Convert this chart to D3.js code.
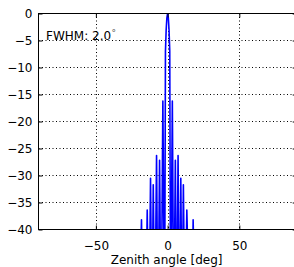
<!DOCTYPE html>
<html>
<head>
<meta charset="utf-8">
<script src="https://cdn.jsdelivr.net/npm/d3@7"></script>
<style>
  html, body { margin: 0; padding: 0; background: #fff; }
  svg { display: block; }
  text { font-family: "DejaVu Sans", sans-serif; }
</style>
</head>
<body>
<svg id="chart" width="294" height="267"></svg>
<script>
// Beam pattern (zenith angle in deg, gain in dB; -60 = deep null below the axis)
const angles = [-90, -20, -18.2, -17, -15.5, -14.2, -13, -11.9, -10.9, -10.0, -8.9, -7.7, -6.7, -5.6, -4.5, -3.3, -2.1, -1.5, -1, -0.5, 0, 0.5, 1, 1.5, 2.1, 3.3, 4.3, 5.4, 6.3, 7.3, 8.2, 9.2, 10.1, 11.0, 12.1, 13.4, 15.5, 16.8, 17.8, 19.5, 90];
const gainDb = [-60, -60, -38.2, -60, -60, -36.4, -60, -30.5, -60, -31.7, -60, -26.3, -60, -27.2, -60, -16.2, -60, -7, -3, -0.8, 0, -0.8, -3, -7, -60, -16.2, -60, -27.2, -60, -26.3, -60, -30.5, -60, -31.7, -60, -36.4, -60, -60, -38.2, -60, -60];
const xTicks = [-50, 0, 50];
const yTicks = [0, -5, -10, -15, -20, -25, -30, -35, -40];
const xLabel = "Zenith angle [deg]";
const annotation = "FWHM: 2.0";

const svg = d3.select("#chart");
const L = 38.5, R = 296.7, T = 13.5, B = 229.5;
const x = d3.scaleLinear().domain([-90, 90]).range([L, R]);
const y = d3.scaleLinear().domain([-40, 0]).range([B, T]);

svg.append("defs").append("clipPath").attr("id", "clip")
  .append("rect").attr("x", L).attr("y", T).attr("width", R - L).attr("height", B - T);

// grid
const grid = svg.append("g").attr("stroke", "#000").attr("stroke-width", 1)
  .attr("stroke-dasharray", "1,2.5").attr("fill", "none");
xTicks.forEach(t => grid.append("line")
  .attr("x1", Math.round(x(t)) + 0.5).attr("x2", Math.round(x(t)) + 0.5)
  .attr("y1", T).attr("y2", B));
yTicks.filter(t => t !== 0 && t !== -40).forEach(t => grid.append("line")
  .attr("x1", L).attr("x2", R)
  .attr("y1", y(t)).attr("y2", y(t)));

// data line
const line = d3.line().x((d, i) => x(angles[i])).y(d => y(d));
svg.append("path")
  .attr("clip-path", "url(#clip)")
  .attr("d", line(gainDb))
  .attr("fill", "none")
  .attr("stroke", "#0000ff")
  .attr("stroke-width", 1.6)
  .attr("stroke-linejoin", "round");

// axes (inward ticks, classic style)
const fmt = d => d3.format("")(d).replace("-", "\u2212");
const axB = svg.append("g").attr("transform", `translate(0,${B})`)
  .call(d3.axisBottom(x).tickValues(xTicks).tickSize(-4).tickPadding(12).tickFormat(fmt));
const axT = svg.append("g").attr("transform", `translate(0,${T})`)
  .call(d3.axisTop(x).tickValues(xTicks).tickSize(-4).tickFormat(""));
const axL = svg.append("g").attr("transform", `translate(${L},0)`)
  .call(d3.axisLeft(y).tickValues(yTicks).tickSize(-4).tickPadding(6).tickFormat(fmt));
const axR = svg.append("g").attr("transform", `translate(${R},0)`)
  .call(d3.axisRight(y).tickValues(yTicks).tickSize(-4).tickFormat(""));
[axB, axT, axL, axR].forEach(g => {
  g.select(".domain").remove();
  g.selectAll(".tick line").attr("stroke", "#000");
  g.selectAll("text").attr("font-family", "DejaVu Sans").attr("font-size", 12).attr("fill", "#000");
});
svg.append("rect").attr("x", L).attr("y", T).attr("width", R - L).attr("height", B - T)
  .attr("fill", "none").attr("stroke", "#000").attr("stroke-width", 1);

svg.append("text").attr("x", (L + R) / 2 - 1).attr("y", 264)
  .attr("text-anchor", "middle").attr("font-size", 12).attr("fill", "#000").text(xLabel);

const ann = svg.append("text").attr("x", 46).attr("y", 39.5).attr("font-size", 12).attr("fill", "#000");
ann.append("tspan").text(annotation);
ann.append("tspan").attr("font-size", 9).attr("dx", 0.5).attr("dy", -4).attr("fill", "#555").text("\u00B0");
</script>
</body>
</html>
